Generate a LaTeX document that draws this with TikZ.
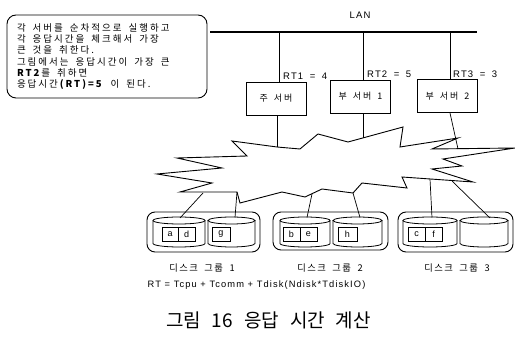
\documentclass[tikz,border=0pt]{standalone}
\usepackage{fontspec}
\setmainfont{Noto Sans CJK KR}
\newfontfamily\kr[LetterSpace=21]{Noto Sans CJK KR}
\newfontfamily\krg[LetterSpace=16]{Noto Sans CJK KR}
\newfontfamily\krcap{Noto Sans CJK KR}
\newfontfamily\lat[LetterSpace=12]{Liberation Sans}
\newcommand\wsp[1]{\spaceskip=#1\relax}
\begin{document}
\begin{tikzpicture}[x=1pt,y=-1pt,
  thin line/.style={line width=0.7pt},
  srv/.style={draw,line width=0.8pt,minimum width=60pt,minimum height=33pt,inner sep=0pt,font=\kr\fontsize{9}{10}\selectfont},
  grp/.style={draw,line width=0.9pt,rounded corners=8pt,inner sep=0pt},
  lbl/.style={inner sep=0pt,font=\krg\fontsize{9.3}{10}\selectfont},
  rtl/.style={inner sep=0pt,anchor=west,font=\lat\fontsize{9.5}{10}\selectfont},
  cell/.style={draw,line width=0.7pt,minimum height=14pt,inner sep=0pt,font=\lat\fontsize{9}{9}\selectfont},
  cyl/.style={line width=0.8pt}]
\useasboundingbox (0,0) rectangle (515,344);

% callout
\node[draw,line width=0.9pt,rounded corners=9pt,minimum width=200pt,minimum height=83pt,
  text width=180pt,align=left,inner sep=0pt,
  font=\kr\fontsize{9.5}{11.3}\selectfont] (note) at (107,56.5)
  {\wsp{7pt}각 서버를 순차적으로 실행하고\\각 응답시간을 체크해서 가장\\큰 것을 취한다.\\그림에서는 응답시간이 가장 큰\\\textbf{RT2}를 취하면\\응답시간\textbf{(RT)=5} 이 된다.};

% LAN
\node[inner sep=0pt,font=\lat\fontsize{9.5}{10}\selectfont] (lanlbl) at (360,15) {LAN};
\coordinate (lanA) at (210,32);
\coordinate (lanB) at (477,32);
\draw[line width=1.2pt] (lanA) -- (lanB);

% servers
\node[srv] (s1) at (276,98.5) {\wsp{6pt}주 서버};
\node[srv] (s2) at (360.5,96.5) {\wsp{6pt}부 서버 1};
\node[srv] (s3) at (447.5,96) {\wsp{6pt}부 서버 2};

\coordinate (l1) at (279,32);
\coordinate (l2) at (363,32);
\coordinate (l3) at (450,32);
\draw[thin line] (l1) -- (l1 |- s1.north);
\draw[thin line] (l2) -- (l2 |- s2.north);
\draw[thin line] (l3) -- (l3 |- s3.north);

\node[rtl] (rt1) at (283,76) {\wsp{6.5pt}RT1 = 4};
\node[rtl] (rt2) at (367,74) {\wsp{6.5pt}RT2 = 5};
\node[rtl] (rt3) at (453,74) {\wsp{6.5pt}RT3 = 3};

% cloud
\draw[line width=0.9pt,line join=miter] (232,141) -- (277,147) -- (300,149) -- (318,134) -- (348,142) -- (403,127)
  -- (400,147) -- (458,138) -- (432,149) -- (515,148) -- (443,159) -- (462,166) -- (432,169)
  -- (473,182) -- (402,177) -- (407,188) -- (362,183) -- (353,193) -- (322,189) -- (305,197)
  -- (282,192) -- (240,203) -- (237,192) -- (180,192) -- (212,183) -- (157,174) -- (222,168)
  -- (177,158) -- (247,156) -- cycle;

\coordinate (k1) at (277,147);
\coordinate (k2) at (363,138);
\coordinate (k3) at (458,149);
\draw[thin line] (s1.south -| k1) -- (k1);
\draw[thin line] (s2.south -| k2) -- (k2);
\draw[thin line] ([xshift=2.5pt]s3.south) -- (k3);

% disk groups
\node[grp,minimum width=113pt,minimum height=40pt] (g1) at (203.5,232) {};
\node[grp,minimum width=115pt,minimum height=38pt] (g2) at (330.5,231) {};
\node[grp,minimum width=115pt,minimum height=40pt] (g3) at (455.5,232) {};

% cylinders: x1, x2
\foreach \xa/\xb in {153/205,208/255,280/330,333/382,403/457,460/508}{
  \pgfmathsetmacro\cx{(\xa+\xb)/2}
  \pgfmathsetmacro\rx{(\xb-\xa)/2}
  \draw[cyl] (\cx,220.5) ellipse[x radius=\rx, y radius=3.5];
  \draw[cyl] (\xa,220.5) -- (\xa,243.5) arc[start angle=180,end angle=0,x radius=\rx,y radius=3.5] -- (\xb,220.5);
}

% cells
\node[cell,minimum width=16.5pt] (ca) at (170.25,234) {a};
\node[cell,minimum width=16.5pt] (cd) at (186.75,234) {d};
\node[cell,minimum width=18pt] (cg) at (221,234) {g};
\node[cell,minimum width=17pt] (cb) at (291.5,234) {b};
\node[cell,minimum width=17pt] (ce) at (308.5,234) {e};
\node[cell,minimum width=19pt] (ch) at (347.5,234) {h};
\node[cell,minimum width=17pt] (cc) at (416.5,234) {c};
\node[cell,minimum width=17pt] (cf) at (433.5,234) {f};

% connectors cloud -> disks
\coordinate (b1a) at (203,193); \coordinate (d1a) at (180,218);
\coordinate (b1b) at (237,192); \coordinate (d1b) at (235,217.5);
\coordinate (b2a) at (312,194); \coordinate (d2a) at (307,217.5);
\coordinate (b2b) at (353,193); \coordinate (d2b) at (360,217.5);
\coordinate (b3a) at (430,179); \coordinate (d3a) at (432,217.5);
\coordinate (b3b) at (452,181); \coordinate (d3b) at (490,218);
\draw[thin line] (b1a) -- (d1a);
\draw[thin line] (b1b) -- (d1b);
\draw[thin line] (b2a) -- (d2a);
\draw[thin line] (b2b) -- (d2b);
\draw[thin line] (b3a) -- (d3a);
\draw[thin line] (b3b) -- (d3b);

% labels
\node[lbl] (t1) at (202,268) {\wsp{6.5pt}디스크 그룹 1};
\node[lbl] (t2) at (330,268) {\wsp{6.5pt}디스크 그룹 2};
\node[lbl] (t3) at (457,268) {\wsp{6.5pt}디스크 그룹 3};

\node[inner sep=0pt,font=\lat\fontsize{9.3}{10}\selectfont] (formula) at (256.5,285) {RT = Tcpu + Tcomm + Tdisk(Ndisk*TdiskIO)};

\node[inner sep=0pt,font=\krcap\fontsize{19}{22}\selectfont] (caption) at (268.5,320) {\wsp{11pt}그림 16 응답 시간 계산};
\end{tikzpicture}
\end{document}
